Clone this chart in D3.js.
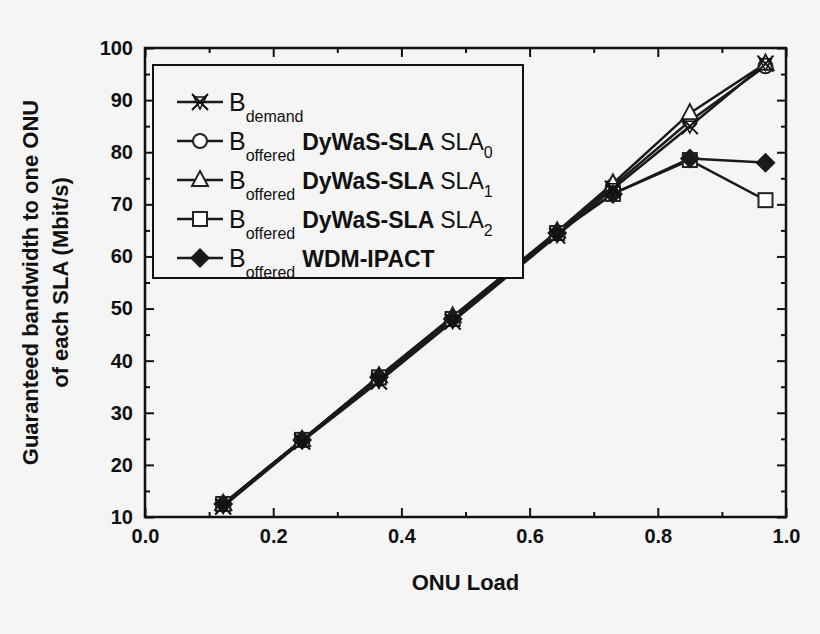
<!doctype html>
<html lang="en">
<head>
<meta charset="UTF-8">
<script src="https://cdnjs.cloudflare.com/ajax/libs/d3/7.0.0/d3.min.js"></script>
<style>
  body { margin: 0; background: #f5f5f5; }
  text { font-family: "Liberation Sans", Arial, sans-serif; }
</style>
</head>
<body>
<div id="Area"></div>
<script>
const load = [0.122, 0.245, 0.365, 0.48, 0.643, 0.73, 0.85, 0.968];
const demand = [12, 24.5, 36, 47.5, 64, 73, 85, 97];
const sla0 = [12.5, 24.8, 36.5, 48, 64.5, 73.5, 86, 96.5];
const sla1 = [12.5, 24.8, 37, 48.5, 64.8, 74, 87.5, 97];
const sla2 = [12.5, 24.8, 36.8, 48, 64.5, 72, 78.5, 70.8];
const wdm = [12.5, 24.8, 36.8, 48, 64.5, 72, 78.8, 78];
const xTicks = [0.0, 0.2, 0.4, 0.6, 0.8, 1.0];
const yTicks = [10, 20, 30, 40, 50, 60, 70, 80, 90, 100];

const W = 820, H = 634;
const margin = {top: 48, right: 34, bottom: 117, left: 145};
const width = W - margin.left - margin.right, height = H - margin.top - margin.bottom;

const svg = d3.select("#Area").append("svg").attr("width", W).attr("height", H)
    .style("background", "#f5f5f5");
const g = svg.append("g").attr("transform", "translate(" + margin.left + "," + margin.top + ")");

const x = d3.scaleLinear().domain([0, 1]).range([0, width]);
const y = d3.scaleLinear().domain([10, 100]).range([height, 0]);

// ticks inward, minor ticks
function ticks(axisFn, scale, major, minor, fmt, tr, labels) {
    const a = g.append("g").attr("transform", tr);
    a.call(axisFn(scale).tickValues(minor).tickSize(-5).tickFormat(""));
    const b = g.append("g").attr("transform", tr);
    b.call(axisFn(scale).tickValues(major).tickSize(-9).tickPadding(12).tickFormat(labels ? fmt : ""));
    [a, b].forEach(s => {
        s.select(".domain").remove();
        s.selectAll("line").attr("stroke", "#111").attr("stroke-width", 2);
        s.selectAll("text").attr("font-size", 20).attr("font-weight", "bold").attr("fill", "#111");
    });
}
const xMinor = d3.range(0.1, 1, 0.2);
const yMinor = d3.range(15, 100, 10);
ticks(d3.axisBottom, x, xTicks, xMinor, d3.format(".1f"), "translate(0," + height + ")", true);
ticks(d3.axisTop, x, xTicks, xMinor, d3.format(".1f"), "translate(0,0)", false);
ticks(d3.axisLeft, y, yTicks, yMinor, d3.format("d"), "translate(0,0)", true);
ticks(d3.axisRight, y, yTicks, yMinor, d3.format("d"), "translate(" + width + ",0)", false);

g.append("rect").attr("width", width).attr("height", height)
    .attr("fill", "none").attr("stroke", "#111").attr("stroke-width", 2.5);

const line = d3.line().x((d, i) => x(load[i])).y(d => y(d));

const series = [
    {v: sla0, m: "circle"}, {v: sla1, m: "triangle"}, {v: sla2, m: "square"},
    {v: wdm, m: "diamond"}, {v: demand, m: "cross"}
];

function marker(sel, type) {
    if (type === "circle") sel.append("circle").attr("r", 7).attr("fill", "#fff").attr("stroke", "#222").attr("stroke-width", 2);
    if (type === "triangle") sel.append("path").attr("d", "M0,-9L8,6L-8,6Z").attr("fill", "#fff").attr("stroke", "#222").attr("stroke-width", 2);
    if (type === "square") sel.append("rect").attr("x", -7).attr("y", -7).attr("width", 14).attr("height", 14).attr("fill", "#fff").attr("stroke", "#222").attr("stroke-width", 2);
    if (type === "diamond") sel.append("path").attr("d", "M0,-10L10,0L0,10L-10,0Z").attr("fill", "#1a1a1a");
    if (type === "cross") {
        sel.append("path").attr("d", "M-8,-8L8,8M-8,8L8,-8").attr("stroke", "#111").attr("stroke-width", 2);
        sel.append("path").attr("d", "M-6,-5L6,-5L0,7Z").attr("fill", "none").attr("stroke", "#111").attr("stroke-width", 1.5);
    }
}

series.forEach(s => {
    g.append("path").datum(s.v).attr("d", line).attr("fill", "none")
        .attr("stroke", "#1a1a1a").attr("stroke-width", 2.5);
});
series.forEach(s => {
    g.selectAll(null).data(s.v).join("g")
        .attr("transform", (d, i) => "translate(" + x(load[i]) + "," + y(d) + ")")
        .each(function () { marker(d3.select(this), s.m); });
});

// legend
const legend = [
    {m: "cross", sub: "demand", bold: "", rest: "", idx: ""},
    {m: "circle", sub: "offered", bold: "DyWaS-SLA", rest: "SLA", idx: "0"},
    {m: "triangle", sub: "offered", bold: "DyWaS-SLA", rest: "SLA", idx: "1"},
    {m: "square", sub: "offered", bold: "DyWaS-SLA", rest: "SLA", idx: "2"},
    {m: "diamond", sub: "offered", bold: "WDM-IPACT", rest: "", idx: ""}
];
const lg = g.append("g").attr("transform", "translate(8,17)");
lg.append("rect").attr("width", 370).attr("height", 213).attr("fill", "#f5f5f5")
    .attr("stroke", "#111").attr("stroke-width", 2);
legend.forEach((d, i) => {
    const row = lg.append("g").attr("transform", "translate(0," + (37 + i * 39) + ")");
    row.append("line").attr("x1", 24).attr("x2", 70).attr("stroke", "#1a1a1a").attr("stroke-width", 2.5);
    marker(row.append("g").attr("transform", "translate(47,0)"), d.m);
    const t = row.append("text").attr("x", 76).attr("y", 9).attr("font-size", 25).attr("fill", "#111");
    t.append("tspan").text("B");
    t.append("tspan").attr("dy", 11).attr("font-size", 16).text(d.sub);
    t.append("tspan").attr("dy", -11).attr("dx", 7).attr("font-weight", "bold").attr("font-size", 23).text(d.bold);
    if (d.rest) {
        t.append("tspan").attr("dx", 6).attr("font-size", 23).text(d.rest);
        t.append("tspan").attr("dy", 8).attr("font-size", 16).text(d.idx);
    }
});

svg.append("text").attr("x", margin.left + width / 2).attr("y", 590).attr("text-anchor", "middle")
    .attr("font-size", 22).attr("font-weight", "bold").attr("fill", "#111").text("ONU Load");
const yl = svg.append("text").attr("transform", "translate(38," + (margin.top + height / 2) + ") rotate(-90)")
    .attr("text-anchor", "middle").attr("font-size", 22).attr("font-weight", "bold").attr("fill", "#111");
yl.append("tspan").attr("x", 0).attr("dy", 0).text("Guaranteed bandwidth to one ONU");
yl.append("tspan").attr("x", 0).attr("dy", 30).text("of each SLA (Mbit/s)");
</script>
</body>
</html>
